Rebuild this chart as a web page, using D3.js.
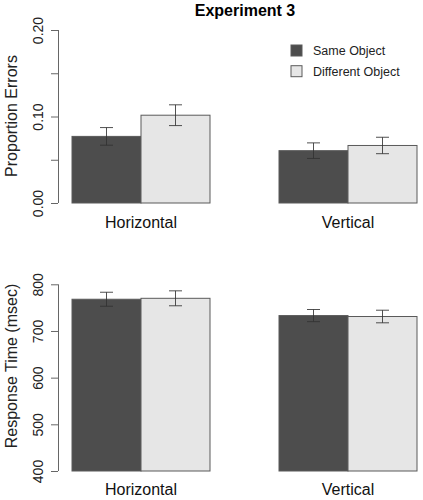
<!DOCTYPE html>
<html><head><meta charset="utf-8">
<script src="https://cdn.jsdelivr.net/npm/d3@7"></script>
<style>body{margin:0;background:#fff}svg{display:block;font-family:"Liberation Sans",Arial,sans-serif}</style>
</head><body>
<script>
const groups = ["Horizontal", "Vertical"];
const series = ["Same Object", "Different Object"];
const colors = ["#4d4d4d", "#e6e6e6"];
// Proportion errors: [Horizontal, Vertical] per series
const errSame = [0.077, 0.0605];
const errDiff = [0.1015, 0.0665];
const errSameSE = [0.0102, 0.009];
const errDiffSE = [0.012, 0.0095];
// Response time (msec)
const rtSame = [768, 733];
const rtDiff = [770, 731];
const rtSameSE = [15, 13];
const rtDiffSE = [16, 13.5];
const errTicks = [0, 0.05, 0.10, 0.15, 0.20];
const errTickLabels = ["0.00", "", "0.10", "", "0.20"];
const rtTicks = [400, 500, 600, 700, 800];

const W = 423, H = 500;
const svg = d3.select("body").append("svg").attr("width", W).attr("height", H);

svg.append("text").attr("x", 245).attr("y", 15.5).attr("text-anchor", "middle")
  .attr("font-size", 16).attr("font-weight", "bold").text("Experiment 3");

const x0 = d3.scaleBand().domain(groups).range([72, 417]).paddingInner(1/3).paddingOuter(0);
const x1 = d3.scaleBand().domain(series).range([0, x0.bandwidth()]).padding(0);

function panel(cfg) {
  const y = d3.scaleLinear().domain(cfg.domain).range(cfg.range);
  const g = svg.append("g");
  const data = [];
  groups.forEach((grp, i) => {
    series.forEach((s, j) => {
      data.push({grp, s, j, v: cfg.vals[j][i], se: cfg.se[j][i]});
    });
  });
  g.selectAll("rect.bar").data(data).enter().append("rect")
    .attr("x", d => x0(d.grp) + x1(d.s))
    .attr("width", x1.bandwidth())
    .attr("y", d => y(d.v))
    .attr("height", d => y(cfg.domain[0]) - y(d.v))
    .attr("fill", d => colors[d.j])
    .attr("stroke", "#5a5a5a").attr("stroke-width", 1);
  const eb = g.selectAll("g.eb").data(data).enter().append("g")
    .attr("stroke", "#333").attr("stroke-width", 1).attr("stroke-opacity", 0.85);
  const cx = d => x0(d.grp) + x1(d.s) + x1.bandwidth() / 2;
  eb.append("line").attr("x1", cx).attr("x2", cx)
    .attr("y1", d => y(d.v - d.se)).attr("y2", d => y(d.v + d.se));
  eb.append("line").attr("x1", d => cx(d) - 6.5).attr("x2", d => cx(d) + 6.5)
    .attr("y1", d => y(d.v - d.se)).attr("y2", d => y(d.v - d.se));
  eb.append("line").attr("x1", d => cx(d) - 6.5).attr("x2", d => cx(d) + 6.5)
    .attr("y1", d => y(d.v + d.se)).attr("y2", d => y(d.v + d.se));

  const axis = d3.axisLeft(y).tickValues(cfg.ticks).tickSize(7).tickPadding(4)
    .tickFormat((d, i) => cfg.tickLabels[i]);
  const ag = g.append("g").attr("transform", "translate(58,0)").call(axis);
  ag.select(".domain").attr("stroke", "#666").attr("d", `M0.5,${y(cfg.domain[1])}V${y(cfg.domain[0])}`);
  ag.selectAll(".tick line").attr("stroke", "#666");
  ag.selectAll(".tick text").attr("font-size", 14).attr("fill", "#222")
    .attr("font-family", "Liberation Sans, Arial, sans-serif")
    .attr("transform", "rotate(-90)")
    .attr("x", 0).attr("y", -15).attr("dy", 0).attr("text-anchor", "middle");

  svg.append("text").attr("transform", `translate(16.5,${cfg.labelY}) rotate(-90)`)
    .attr("text-anchor", "middle").attr("font-size", 16).attr("fill", "#222").text(cfg.label);

  g.selectAll("text.cat").data(groups).enter().append("text")
    .attr("x", d => x0(d) + x0.bandwidth() / 2).attr("y", cfg.catY)
    .attr("text-anchor", "middle").attr("font-size", 16).attr("fill", "#111").text(d => d);
}

panel({domain: [0, 0.2], range: [203, 30], vals: [errSame, errDiff], se: [errSameSE, errDiffSE],
  ticks: errTicks, tickLabels: errTickLabels, label: "Proportion Errors", labelY: 116, catY: 228});
panel({domain: [400, 800], range: [471, 284.3], vals: [rtSame, rtDiff], se: [rtSameSE, rtDiffSE],
  ticks: rtTicks, tickLabels: rtTicks.map(String), label: "Response Time (msec)", labelY: 366, catY: 495});

const leg = svg.append("g");
series.forEach((s, i) => {
  leg.append("rect").attr("x", 291).attr("y", 45 + i * 20.7).attr("width", 11).attr("height", 11)
    .attr("fill", colors[i]).attr("stroke", "#5a5a5a");
  leg.append("text").attr("x", 313).attr("y", 55 + i * 20.7).attr("font-size", 12.5).attr("fill", "#222").text(s);
});
</script>
</body></html>
